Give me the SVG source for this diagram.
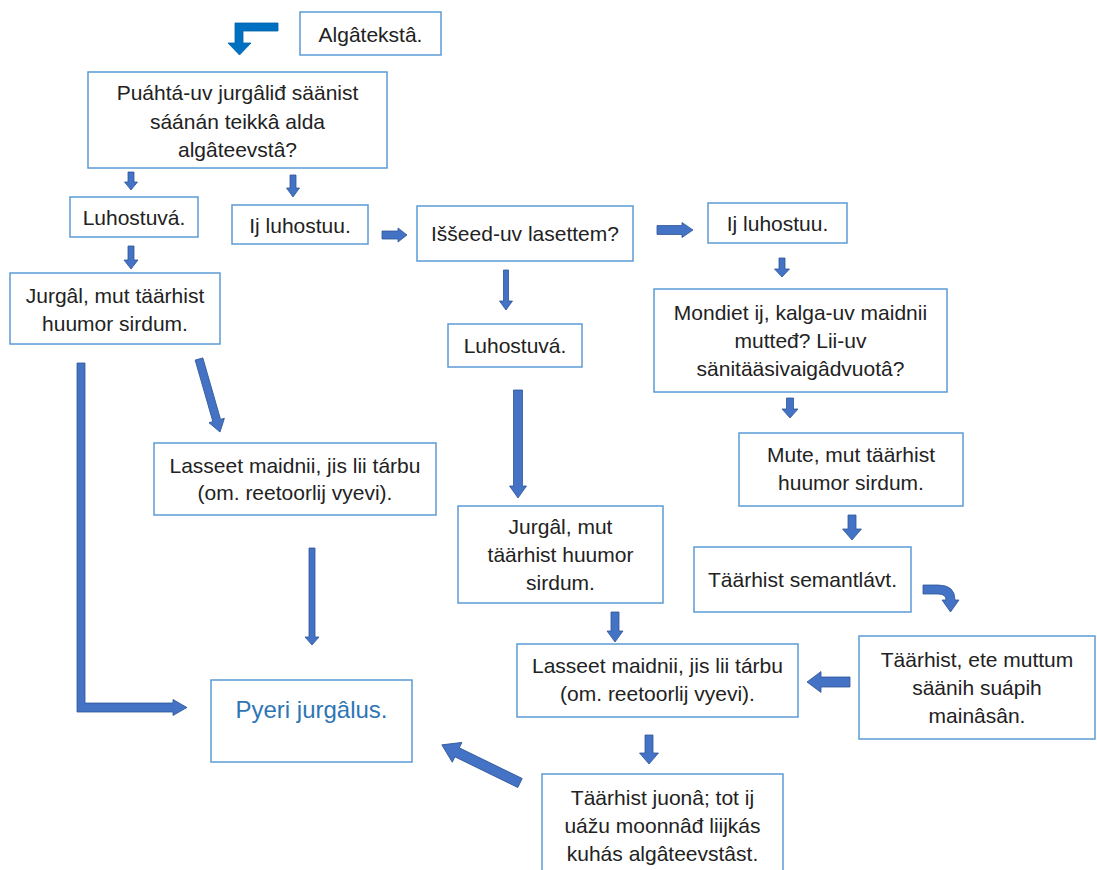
<svg xmlns="http://www.w3.org/2000/svg" width="1097" height="870" viewBox="0 0 1097 870">
<style>
.box{fill:#fff;stroke:#5B9BD5;stroke-width:1.5}
.t{font-family:"Liberation Sans",Arial,sans-serif;font-size:21px;fill:#222;text-anchor:middle}
.tb{font-family:"Liberation Sans",Arial,sans-serif;font-size:24px;fill:#2E75B6;text-anchor:middle}
.arr{fill:#4472C4;stroke:#2F5597;stroke-width:0.8}
.arr2{fill:#0070C0;stroke:#0062A8;stroke-width:0.8}
</style>
<rect width="1097" height="870" fill="#fff"/>
<g id="connectors">
  <!-- top elbow -->
  <path class="arr2" d="M278,23 L235,23 L235,43 L228,43 L239.5,55 L251,43 L243,43 L243,31 L278,31 Z"/>
  <!-- small downs -->
  <path class="arr" d="M128,172 L134,172 L134,182 L137.5,182 L131,190 L124.5,182 L128,182 Z"/>
  <path class="arr" d="M290,175 L296,175 L296,188 L299.5,188 L293,197 L286.5,188 L290,188 Z"/>
  <path class="arr" d="M128,246 L134,246 L134,260 L138,260 L131,269 L124,260 L128,260 Z"/>
  <!-- right arrows -->
  <path class="arr" d="M382,231 L398,231 L398,228 L407,235 L398,242 L398,239 L382,239 Z"/>
  <path class="arr" d="M657,225.5 L682,225.5 L682,222.5 L693,230 L682,237.5 L682,234.5 L657,234.5 Z"/>
  <!-- right column downs -->
  <path class="arr" d="M779,258 L785,258 L785,269 L789.5,269 L782,277 L774.5,269 L779,269 Z"/>
  <path class="arr" d="M786.5,398 L793.5,398 L793.5,409 L798,409 L790,418 L782,409 L786.5,409 Z"/>
  <path class="arr" d="M848,515 L856,515 L856,529 L861.5,529 L852,540 L842.5,529 L848,529 Z"/>
  <!-- curved -->
  <path class="arr" d="M923,585 L938,585 Q955,585 955,600 L959,600 L950.5,612 L942,600 L946,600 Q946,594 938,594 L923,594 Z"/>
  <!-- left arrow -->
  <path class="arr" d="M850,677 L821,677 L821,671.5 L807,682 L821,692.5 L821,687 L850,687 Z"/>
  <!-- middle downs -->
  <path class="arr" d="M611,612 L619,612 L619,631 L623,631 L615,642 L607,631 L611,631 Z"/>
  <path class="arr" d="M645,735 L653,735 L653,753 L658.5,753 L649,764 L639.5,753 L645,753 Z"/>
  <path class="arr" d="M503.5,270 L508.5,270 L508.5,301 L512.5,301 L506,310 L499.5,301 L503.5,301 Z"/>
  <path class="arr" d="M513.5,390 L522.5,390 L522.5,486 L526.5,486 L518,498 L509.5,486 L513.5,486 Z"/>
  <!-- diagonal bottom -->
  <path class="arr" transform="translate(520,783) rotate(206)" d="M0,-5 L70,-5 L70,-11 L87,0 L70,11 L70,5 L0,5 Z"/>
  <!-- diagonal left -->
  <path class="arr" transform="translate(199,359) rotate(73.95)" d="M0,-4 L64,-4 L64,-8 L76,0 L64,8 L64,4 L0,4 Z"/>
  <!-- left down -->
  <path class="arr" d="M309,548 L315,548 L315,637 L319,637 L312,645 L305,637 L309,637 Z"/>
  <!-- big L arrow -->
  <path class="arr" d="M77,363 L85,363 L85,703 L173,703 L173,699.5 L187,707.5 L173,715.5 L173,712 L77,712 Z"/>
</g>
<g id="n1"><rect class="box" x="300" y="12" width="141" height="43"/><text class="t" x="370.5" y="42">Algâtekstâ.</text></g>
<g id="n2"><rect class="box" x="88" y="72" width="299" height="96"/>
<text class="t" x="237.5" y="100">Puáhtá-uv jurgâliđ säänist</text>
<text class="t" x="237.5" y="128.5">sáánán teikkâ alda</text>
<text class="t" x="237.5" y="157">algâteevstâ?</text></g>
<g id="n3"><rect class="box" x="70" y="197" width="128" height="40"/><text class="t" x="134" y="225">Luhostuvá.</text></g>
<g id="n4"><rect class="box" x="232" y="205" width="136" height="39"/><text class="t" x="300" y="233">Ij luhostuu.</text></g>
<g id="n5"><rect class="box" x="10" y="273" width="210" height="71"/>
<text class="t" x="115" y="303">Jurgâl, mut täärhist</text>
<text class="t" x="115" y="331">huumor sirdum.</text></g>
<g id="n6"><rect class="box" x="417" y="206" width="216" height="55"/><text class="t" x="525" y="241">Iššeed-uv lasettem?</text></g>
<g id="n7"><rect class="box" x="448" y="324" width="134" height="43"/><text class="t" x="515" y="353">Luhostuvá.</text></g>
<g id="n8"><rect class="box" x="708" y="203" width="139" height="40"/><text class="t" x="777.5" y="231">Ij luhostuu.</text></g>
<g id="n9"><rect class="box" x="654" y="289" width="293" height="103"/>
<text class="t" x="800.5" y="320">Mondiet ij, kalga-uv maidnii</text>
<text class="t" x="800.5" y="348">mutteđ? Lii-uv</text>
<text class="t" x="800.5" y="376">sänitääsivaigâdvuotâ?</text></g>
<g id="n10"><rect class="box" x="739" y="433" width="224" height="73"/>
<text class="t" x="851" y="462">Mute, mut täärhist</text>
<text class="t" x="851" y="490">huumor sirdum.</text></g>
<g id="n11"><rect class="box" x="694" y="547" width="217" height="65"/><text class="t" x="802.5" y="587">Täärhist semantlávt.</text></g>
<g id="n12"><rect class="box" x="859" y="636" width="236" height="103"/>
<text class="t" x="977" y="667">Täärhist, ete muttum</text>
<text class="t" x="977" y="695">säänih suápih</text>
<text class="t" x="977" y="723">mainâsân.</text></g>
<g id="n13"><rect class="box" x="517" y="644" width="281" height="73"/>
<text class="t" x="657.5" y="673">Lasseet maidnii, jis lii tárbu</text>
<text class="t" x="657.5" y="701">(om. reetoorlij vyevi).</text></g>
<g id="n14"><rect class="box" x="542" y="774" width="241" height="110"/>
<text class="t" x="662.5" y="805">Täärhist juonâ; tot ij</text>
<text class="t" x="662.5" y="833">uážu moonnâđ liijkás</text>
<text class="t" x="662.5" y="861">kuhás algâteevstâst.</text></g>
<g id="n15"><rect class="box" x="458" y="506" width="205" height="97"/>
<text class="t" x="560.5" y="534">Jurgâl, mut</text>
<text class="t" x="560.5" y="562">täärhist huumor</text>
<text class="t" x="560.5" y="590">sirdum.</text></g>
<g id="n16"><rect class="box" x="154" y="443" width="282" height="72"/>
<text class="t" x="295" y="473">Lasseet maidnii, jis lii tárbu</text>
<text class="t" x="295" y="500">(om. reetoorlij vyevi).</text></g>
<g id="n17"><rect class="box" x="211" y="680" width="201" height="82"/>
<text class="tb" x="311.5" y="718">Pyeri jurgâlus.</text></g>
</svg>
